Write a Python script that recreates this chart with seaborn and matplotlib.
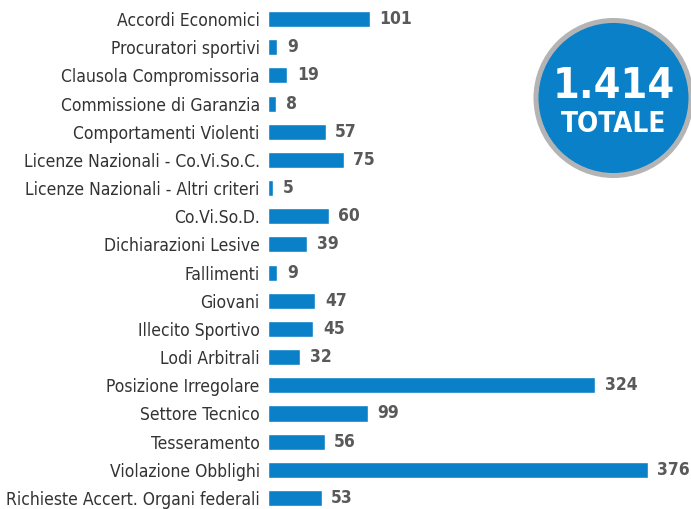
import matplotlib
matplotlib.use("Agg")
import matplotlib.pyplot as plt
import seaborn as sns
import pandas as pd
from matplotlib.patches import Circle

# Data
categories = ["Accordi Economici", "Procuratori sportivi", "Clausola Compromissoria",
              "Commissione di Garanzia", "Comportamenti Violenti",
              "Licenze Nazionali - Co.Vi.So.C.", "Licenze Nazionali - Altri criteri",
              "Co.Vi.So.D.", "Dichiarazioni Lesive", "Fallimenti", "Giovani",
              "Illecito Sportivo", "Lodi Arbitrali", "Posizione Irregolare",
              "Settore Tecnico", "Tesseramento", "Violazione Obblighi",
              "Richieste Accert. Organi federali"]
values = [101, 9, 19, 8, 57, 75, 5, 60, 39, 9, 47, 45, 32, 324, 99, 56, 376, 53]
total_label = "1.414"

df = pd.DataFrame({"categoria": categories, "valore": values})

sns.set_theme(style="white")
plt.rcParams["font.family"] = ["DejaVu Sans"]
plt.rcParams["font.stretch"] = "condensed"

BLUE = "#0a80c9"

fig = plt.figure(figsize=(6.91, 5.09), dpi=100)
W, H = 691, 509
ax = fig.add_axes([268 / W, 0, 423 / W, 1])

sns.barplot(data=df, y="categoria", x="valore", orient="h", color=BLUE,
            saturation=1, width=0.57, ax=ax)

ax.set_xlim(0, 419)
ax.set_ylim(17.39, -0.675)
ax.set_xticks([])
ax.set_xlabel("")
ax.set_ylabel("")
ax.tick_params(axis="y", length=0, pad=6, labelsize=12.5, labelcolor="#333333")
for s in ax.spines.values():
    s.set_visible(False)

for i, v in enumerate(values):
    ax.annotate(str(v), (v, i), xytext=(7, 0), textcoords="offset points",
                va="center", ha="left", fontsize=12.5, fontweight="bold",
                color="#595959")

# total badge
cx, cy, r = 613.5, 98, 85
bax = fig.add_axes([(cx - r) / W, (H - cy - r) / H, 2 * r / W, 2 * r / H])
bax.set_xlim(-1, 1)
bax.set_ylim(-1, 1)
bax.axis("off")
bax.add_patch(Circle((0, 0), 0.912, facecolor=BLUE, edgecolor="#b4b4b4",
                     linewidth=3.6, clip_on=False))
bax.text(0, 0.0, total_label, ha="center", va="baseline", color="white",
         fontsize=31, fontweight="bold")
bax.text(0, -0.4, "TOTALE", ha="center", va="baseline", color="white",
         fontsize=20, fontweight="bold")

fig.savefig("out.png", dpi=100)
